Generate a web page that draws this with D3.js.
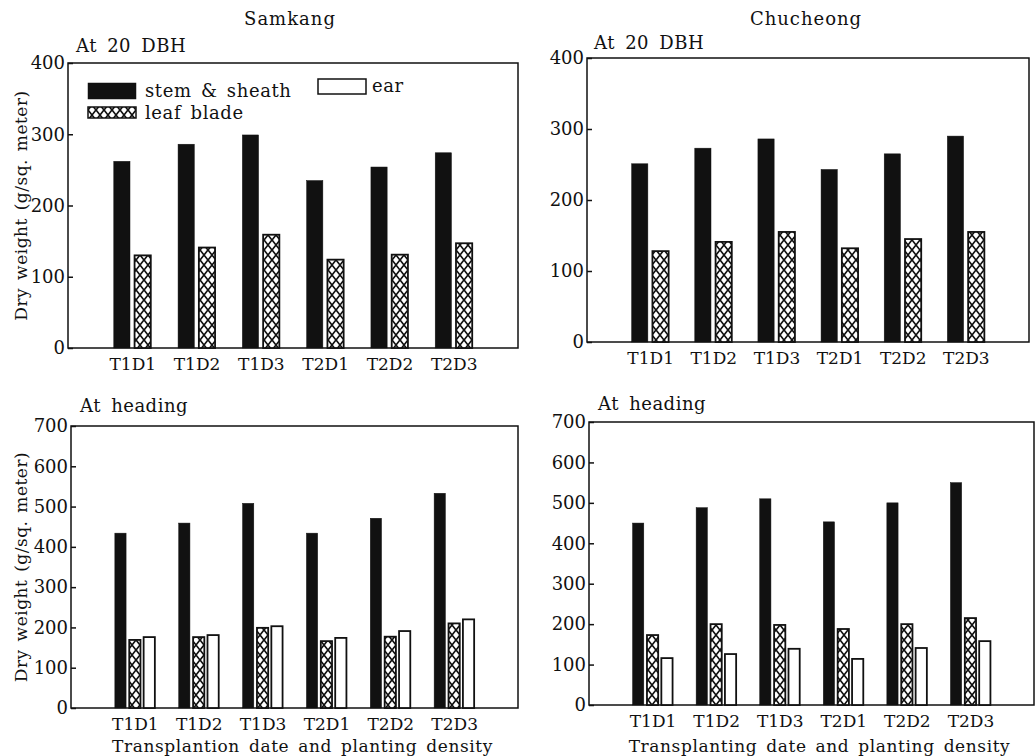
<!DOCTYPE html>
<html>
<head>
<meta charset="utf-8">
<script src="https://cdn.jsdelivr.net/npm/d3@7"></script>
<style>
  body { margin: 0; background: #fff; }
  svg text { fill: #111; }
</style>
</head>
<body>
<svg id="chart" width="1036" height="756"></svg>
<script>
// ---------- data ----------
const categories = ["T1D1", "T1D2", "T1D3", "T2D1", "T2D2", "T2D3"];
const seriesNames = ["stem & sheath", "leaf blade", "ear"];
const ticksDBH = [0, 100, 200, 300, 400];
const ticksHeading = [0, 100, 200, 300, 400, 500, 600, 700];

const samkangDBHStem = [262, 286, 299, 235, 254, 274];
const samkangDBHLeaf = [130, 141, 159, 124, 131, 147];
const samkangHeadStem = [434, 459, 508, 434, 471, 533];
const samkangHeadLeaf = [169, 176, 199, 166, 177, 210];
const samkangHeadEar = [176, 181, 203, 174, 191, 220];

const chucheongDBHStem = [251, 273, 286, 243, 265, 290];
const chucheongDBHLeaf = [128, 141, 155, 132, 145, 155];
const chucheongHeadStem = [450, 488, 510, 453, 500, 550];
const chucheongHeadLeaf = [173, 200, 198, 188, 200, 215];
const chucheongHeadEar = [116, 126, 139, 114, 141, 158];

// ---------- layout ----------
const FONT = "'DejaVu Serif', 'Liberation Serif', serif";
const panels = [
    { left: 68, right: 518, top: 63, bottom: 348, ticks: ticksDBH, title: "At 20 DBH", tx: 76, ty: 52,
      series: [samkangDBHStem, samkangDBHLeaf], groupW: 37, ylabel: true, xtitle: null },
    { left: 587, right: 1029, top: 58, bottom: 342, ticks: ticksDBH, title: "At 20 DBH", tx: 594, ty: 49,
      series: [chucheongDBHStem, chucheongDBHLeaf], groupW: 37, ylabel: false, xtitle: null },
    { left: 71, right: 518, top: 426, bottom: 708, ticks: ticksHeading, title: "At heading", tx: 80, ty: 412,
      series: [samkangHeadStem, samkangHeadLeaf, samkangHeadEar], groupW: 40, ylabel: true,
      xtitle: "Transplantion date and planting density" },
    { left: 589, right: 1034, top: 422, bottom: 705, ticks: ticksHeading, title: "At heading", tx: 598, ty: 410,
      series: [chucheongHeadStem, chucheongHeadLeaf, chucheongHeadEar], groupW: 40, ylabel: false,
      xtitle: "Transplanting date and planting density" }
];

const svg = d3.select("#chart").style("font-family", FONT);

// cross hatch for leaf blade
const pat = svg.append("defs").append("pattern")
    .attr("id", "hatch")
    .attr("patternUnits", "userSpaceOnUse")
    .attr("width", 8)
    .attr("height", 10);
pat.append("rect").attr("width", 8).attr("height", 10).attr("fill", "#fff");
pat.append("path").attr("d", "M0,0L8,10M8,0L0,10M-4,5L0,10M4,-5L8,0")
    .attr("stroke", "#111").attr("stroke-width", 1.7);

function barFill(i) {
    if (i === 0) return "#111";
    if (i === 1) return "url(#hatch)";
    return "#fff";
}

function label(sel, size, ls, ws) {
    return sel.style("font-family", FONT).attr("font-size", size)
        .attr("letter-spacing", ls).attr("word-spacing", ws);
}

// column titles
label(svg.append("text"), 18, 1, 0).attr("x", 290).attr("y", 25)
    .attr("text-anchor", "middle").text("Samkang");
label(svg.append("text"), 18, 1, 0).attr("x", 806).attr("y", 25)
    .attr("text-anchor", "middle").text("Chucheong");

panels.forEach(p => {
    const g = svg.append("g");

    const y = d3.scaleLinear()
        .domain([0, d3.max(p.ticks)])
        .range([p.bottom, p.top]);

    const x = d3.scalePoint()
        .domain(categories)
        .range([p.left, p.right])
        .padding(1);

    const inner = d3.scaleBand()
        .domain(d3.range(p.series.length))
        .range([-p.groupW / 2, p.groupW / 2])
        .paddingInner(0.22);

    // frame
    g.append("rect")
        .attr("x", p.left).attr("y", p.top)
        .attr("width", p.right - p.left).attr("height", p.bottom - p.top)
        .attr("fill", "none").attr("stroke", "#111").attr("stroke-width", 1.5);

    // bars
    p.series.forEach((vals, si) => {
        g.selectAll(null)
            .data(vals)
            .enter().append("rect")
            .attr("x", (d, i) => x(categories[i]) + inner(si))
            .attr("y", d => y(d))
            .attr("width", inner.bandwidth())
            .attr("height", d => p.bottom - y(d))
            .attr("fill", barFill(si))
            .attr("stroke", "#111")
            .attr("stroke-width", si === 0 ? 0.5 : 1.8);
    });

    // y axis, ticks pointing in
    const ya = g.append("g")
        .attr("transform", "translate(" + p.left + ",0)")
        .call(d3.axisLeft(y).tickValues(p.ticks).tickSize(-5).tickPadding(3));
    ya.attr("font-family", null).style("font-family", FONT);
    ya.select(".domain").remove();
    ya.selectAll("line").attr("stroke", "#111").attr("stroke-width", 1.5);
    ya.selectAll("text").attr("font-size", 18).attr("fill", "#111");

    // x axis labels
    const xa = g.append("g")
        .attr("transform", "translate(0," + p.bottom + ")")
        .call(d3.axisBottom(x).tickSize(0).tickPadding(10));
    xa.attr("font-family", null).style("font-family", FONT);
    xa.select(".domain").remove();
    xa.selectAll("text").attr("font-size", 17).attr("fill", "#111");

    // panel title
    label(g.append("text"), 18, 0.5, 4).attr("x", p.tx).attr("y", p.ty).text(p.title);

    if (p.ylabel) {
        label(g.append("text"), 17, 0.5, 2)
            .attr("transform", "translate(27," + (p.top + p.bottom) / 2 + ") rotate(-90)")
            .attr("text-anchor", "middle")
            .text("Dry weight (g/sq. meter)");
    }
    if (p.xtitle) {
        label(g.append("text"), 17, 0.6, 3)
            .attr("x", (p.left + p.right) / 2 + 8).attr("y", 752)
            .attr("text-anchor", "middle")
            .text(p.xtitle);
    }
});

// legend (top-left panel)
const legend = svg.append("g");
const legendItems = [
    { name: seriesNames[0], x: 88, y: 83, h: 16, tx: 145, ty: 97 },
    { name: seriesNames[1], x: 88, y: 107, h: 11, tx: 145, ty: 119 },
    { name: seriesNames[2], x: 318, y: 79, h: 15, tx: 372, ty: 92 }
];
legendItems.forEach((d, i) => {
    legend.append("rect")
        .attr("x", d.x).attr("y", d.y).attr("width", 48).attr("height", d.h)
        .attr("fill", barFill(i)).attr("stroke", "#111").attr("stroke-width", i === 0 ? 0.5 : 1.5);
    label(legend.append("text"), 18, 0.6, 3)
        .attr("x", d.tx).attr("y", d.ty)
        .text(d.name);
});
</script>
</body>
</html>
